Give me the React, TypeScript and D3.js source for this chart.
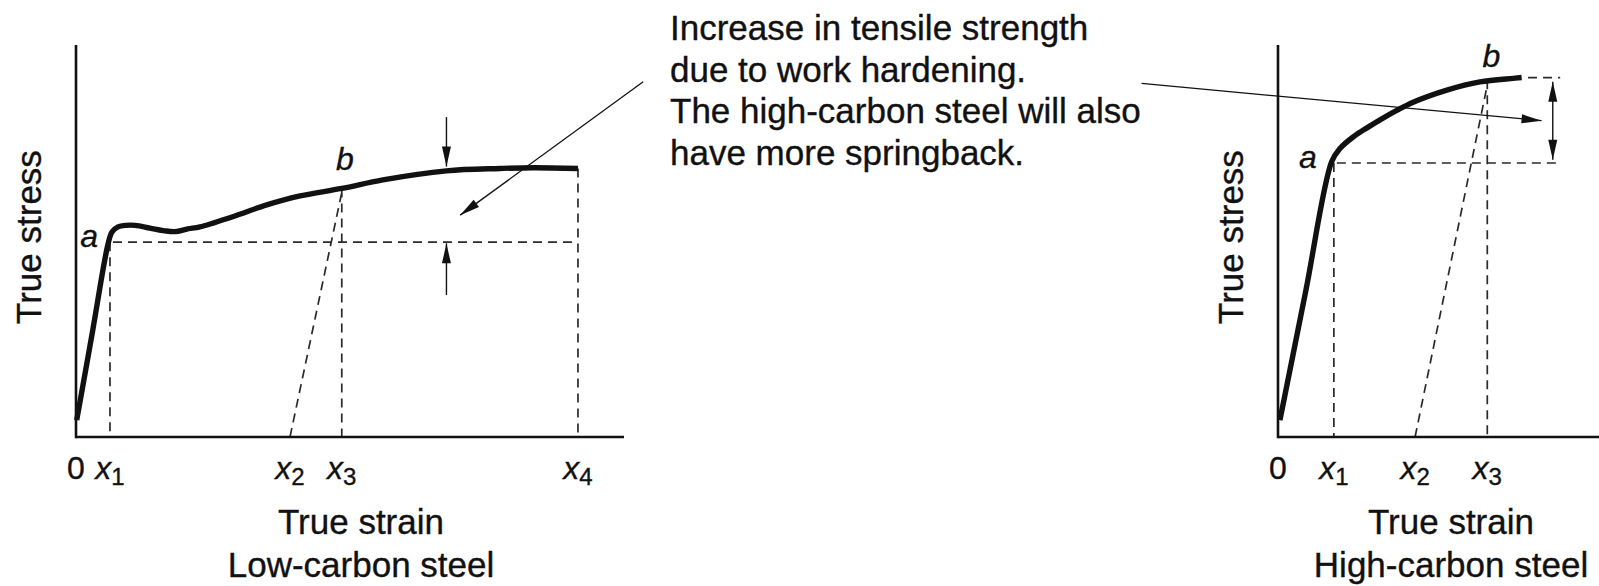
import React from "react";
import * as d3 from "d3";

const W = 1599;
const H = 586;
const FONT = "'Liberation Sans', Arial, Helvetica, sans-serif";

// ---------- Low-carbon steel (left) : strain / stress in arbitrary units 0-100 ----------
const lowStrain = [0.13, 3.0, 5.84, 6.57, 7.66, 9.1, 10.8, 13.5, 16.2, 18.1, 20.4, 22.6, 28.6, 34.8, 40.9, 48.5, 56.0, 67.6, 77.4, 83.4, 91.6];
const lowStress = [4.3, 26.8, 49.2, 52.3, 53.6, 54.0, 54.0, 53.3, 52.6, 52.4, 53.1, 53.6, 56.2, 59.2, 61.5, 63.4, 65.6, 67.9, 68.5, 68.7, 68.5];
const lowTickNames = ["0", "1", "2", "3", "4"];
const lowTickValues = [0, 6.2, 39.05, 48.5, 91.6];
const lowYield = 49.7;
const lowX3Stress = 63.4;
const lowSlantTopStress = 62.4;
const lowEndStress = 68.5;
const lowGapArrowStrain = 67.6;
const lowGapArrowTop = [81.6, 69.0];
const lowGapArrowBottom = [36.2, 49.4];
const lowNoteArrow = [103.5, 90.6, 70.1, 56.6];

// ---------- High-carbon steel (right) ----------
const highStrain = [0.6, 8.65, 16.7, 19.3, 23.5, 27.6, 31.8, 37.0, 42.1, 52.6, 62.9, 73.3, 75.9];
const highStress = [4.3, 37.25, 70.2, 73.6, 76.6, 78.8, 80.9, 83.3, 85.4, 88.5, 90.6, 91.5, 91.7];
const highTickNames = ["0", "1", "2", "3"];
const highTickValues = [0, 17.4, 42.7, 65.2];
const highYield = 69.9;
const highYieldEnd = 86.8;
const highX3Stress = 91.0;
const highSlantTopStress = 89.8;
const highTopDash = [77.9, 87.9];
const highTopStress = 91.7;
const highGapArrowStrain = 85.6;
const highGapArrow = [90.6, 70.7];
const highNoteArrow = [-42.5, 90.2, 82.1, 80.7];

const noteLines = [
  "Increase in tensile strength",
  "due to work hardening.",
  "The high-carbon steel will also",
  "have more springback.",
];
const axisTitleX = "True strain";
const axisTitleY = "True stress";
const lowTitle = "Low-carbon steel";
const highTitle = "High-carbon steel";

// scales
const yScale = d3.scaleLinear().domain([0, 100]).range([437, 45]);
const xLow = d3.scaleLinear().domain([0, 100]).range([76, 624]);
const xHigh = d3.scaleLinear().domain([0, 100]).range([1278, 1599]);

const INK = "#111";
const DASH = "#2a2a2a";
const TXT = { fontFamily: FONT, fill: INK, stroke: INK, strokeWidth: 0.35 };

function head(x1: number, y1: number, x2: number, y2: number, L = 20, w = 4.5) {
  const dx = x2 - x1;
  const dy = y2 - y1;
  const len = Math.hypot(dx, dy);
  const ux = dx / len;
  const uy = dy / len;
  const bx = x2 - ux * L;
  const by = y2 - uy * L;
  const nx = -uy * w;
  const ny = ux * w;
  return `${x2},${y2} ${bx + nx},${by + ny} ${bx - nx},${by - ny}`;
}

function Arrow({ x1, y1, x2, y2, sw = 1.4 }: any) {
  return (
    <g>
      <line x1={x1} y1={y1} x2={x2} y2={y2} stroke={INK} strokeWidth={sw} />
      <polygon points={head(x1, y1, x2, y2)} fill={INK} />
    </g>
  );
}

function Dash({ x1, y1, x2, y2 }: any) {
  return <line x1={x1} y1={y1} x2={x2} y2={y2} stroke={DASH} strokeWidth={1.7} strokeDasharray="9,6" />;
}

function TickLabel({ x, name }: any) {
  if (name === "0") {
    return (
      <text x={x} y={479} textAnchor="middle" fontSize={32} {...TXT}>
        0
      </text>
    );
  }
  return (
    <text x={x} y={479} textAnchor="middle" fontSize={32} {...TXT}>
      <tspan fontStyle="italic">x</tspan>
      <tspan fontSize={24} dy={6}>{name}</tspan>
    </text>
  );
}

function Chart({ xs, strain, stress, tickNames, tickValues, titleCx, yTitleX }: any) {
  const line = d3
    .line<number>()
    .x((_, i) => xs(strain[i]))
    .y((d) => yScale(d))
    .curve(d3.curveCatmullRom.alpha(0.5));
  const [d0, d1] = xs.domain();
  return (
    <g>
      {/* axes */}
      <line x1={xs(d0)} y1={yScale(0)} x2={xs(d1)} y2={yScale(0)} stroke={INK} strokeWidth={2.6} />
      <line x1={xs(0)} y1={yScale(0) + 1.3} x2={xs(0)} y2={yScale(100)} stroke={INK} strokeWidth={2.6} />
      {/* curve */}
      <path d={line(stress) || ""} fill="none" stroke={INK} strokeWidth={5.4} strokeLinecap="butt" strokeLinejoin="round" />
      {/* tick labels */}
      {tickNames.map((n: string, i: number) => (
        <TickLabel key={n} x={xs(tickValues[i])} name={n} />
      ))}
      <text x={titleCx} y={534} textAnchor="middle" fontSize={35} {...TXT}>
        {axisTitleX}
      </text>
      <text
        transform={`translate(${yTitleX},${(yScale(0) + yScale(100)) / 2 - 4}) rotate(-90)`}
        textAnchor="middle"
        fontSize={35}
        {...TXT}
      >
        {axisTitleY}
      </text>
    </g>
  );
}

export default function App() {
  const lx = (v: number) => xLow(v);
  const hx = (v: number) => xHigh(v);
  const y = (v: number) => yScale(v);
  return (
    <svg
      width={W}
      height={H}
      viewBox={`0 0 ${W} ${H}`}
      style={{ position: "absolute", left: 0, top: 0, background: "#fff" }}
    >
      <rect width={W} height={H} fill="#fff" />

      {/* ---------------- LEFT: low-carbon steel ---------------- */}
      <Dash x1={lx(lowTickValues[1])} y1={y(lowYield)} x2={lx(lowTickValues[1])} y2={y(0)} />
      <Dash x1={lx(lowTickValues[1]) + 3} y1={y(lowYield)} x2={lx(lowTickValues[4])} y2={y(lowYield)} />
      <Dash x1={lx(lowTickValues[3])} y1={y(lowX3Stress)} x2={lx(lowTickValues[3])} y2={y(0)} />
      <Dash x1={lx(lowTickValues[4])} y1={y(lowEndStress)} x2={lx(lowTickValues[4])} y2={y(0)} />
      <Dash x1={lx(lowTickValues[2])} y1={y(0)} x2={lx(lowTickValues[3])} y2={y(lowSlantTopStress)} />
      <Chart
        xs={xLow}
        strain={lowStrain}
        stress={lowStress}
        tickNames={lowTickNames}
        tickValues={lowTickValues}
        titleCx={361}
        yTitleX={41}
      />
      <text x={361} y={577} textAnchor="middle" fontSize={35} {...TXT}>
        {lowTitle}
      </text>
      <text x={lx(lowTickValues[1]) - 12} y={y(lowYield) + 5} textAnchor="end" fontSize={32} fontStyle="italic" {...TXT}>
        a
      </text>
      <text x={lx(lowTickValues[3]) + 3} y={y(lowX3Stress) - 18} textAnchor="middle" fontSize={32} fontStyle="italic" {...TXT}>
        b
      </text>
      <Arrow x1={lx(lowGapArrowStrain)} y1={y(lowGapArrowTop[0])} x2={lx(lowGapArrowStrain)} y2={y(lowGapArrowTop[1])} />
      <Arrow x1={lx(lowGapArrowStrain)} y1={y(lowGapArrowBottom[0])} x2={lx(lowGapArrowStrain)} y2={y(lowGapArrowBottom[1])} />
      <Arrow x1={lx(lowNoteArrow[0])} y1={y(lowNoteArrow[1])} x2={lx(lowNoteArrow[2])} y2={y(lowNoteArrow[3])} sw={1.3} />

      {/* ---------------- NOTE ---------------- */}
      {noteLines.map((t, i) => (
        <text key={i} x={670} y={40 + i * 41.5} fontSize={35} {...TXT}>
          {t}
        </text>
      ))}

      {/* ---------------- RIGHT: high-carbon steel ---------------- */}
      <Dash x1={hx(highTickValues[1])} y1={y(highYield)} x2={hx(highTickValues[1])} y2={y(0)} />
      <Dash x1={hx(highTickValues[1]) + 3} y1={y(highYield)} x2={hx(highYieldEnd)} y2={y(highYield)} />
      <Dash x1={hx(highTickValues[3])} y1={y(highX3Stress)} x2={hx(highTickValues[3])} y2={y(0)} />
      <Dash x1={hx(highTickValues[2])} y1={y(0)} x2={hx(highTickValues[3])} y2={y(highSlantTopStress)} />
      <Dash x1={hx(highTopDash[0])} y1={y(highTopStress)} x2={hx(highTopDash[1])} y2={y(highTopStress)} />
      <Chart
        xs={xHigh}
        strain={highStrain}
        stress={highStress}
        tickNames={highTickNames}
        tickValues={highTickValues}
        titleCx={1451}
        yTitleX={1243}
      />
      <text x={1451} y={577} textAnchor="middle" fontSize={35} {...TXT}>
        {highTitle}
      </text>
      <text x={hx(highTickValues[1]) - 17} y={y(highYield) + 5} textAnchor="end" fontSize={32} fontStyle="italic" {...TXT}>
        a
      </text>
      <text x={hx(highTickValues[3]) + 4} y={y(highX3Stress) - 13} textAnchor="middle" fontSize={32} fontStyle="italic" {...TXT}>
        b
      </text>
      {/* double-headed gap arrow */}
      <line x1={hx(highGapArrowStrain)} y1={y(highGapArrow[0])} x2={hx(highGapArrowStrain)} y2={y(highGapArrow[1])} stroke={INK} strokeWidth={1.4} />
      <polygon points={head(hx(highGapArrowStrain), y(highGapArrow[1]), hx(highGapArrowStrain), y(highGapArrow[0]))} fill={INK} />
      <polygon points={head(hx(highGapArrowStrain), y(highGapArrow[0]), hx(highGapArrowStrain), y(highGapArrow[1]))} fill={INK} />
      <Arrow x1={hx(highNoteArrow[0])} y1={y(highNoteArrow[1])} x2={hx(highNoteArrow[2])} y2={y(highNoteArrow[3])} sw={1.3} />
    </svg>
  );
}
